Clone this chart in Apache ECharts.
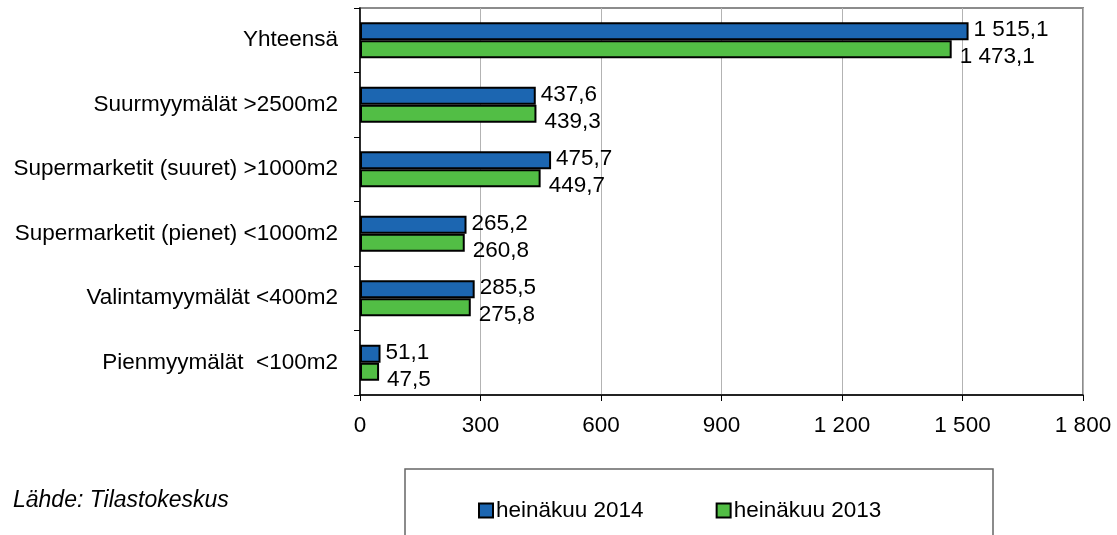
<!DOCTYPE html>
<html>
<head>
<meta charset="utf-8">
<script src="https://cdn.jsdelivr.net/npm/echarts@6/dist/echarts.min.js"></script>
<style>
    html, body { margin: 0; padding: 0; background: #fff; }
    #chart { width: 1117px; height: 535px; }
</style>
</head>
<body>
<div id="chart"></div>
<script>
// kategoriat ylhäältä alas
var categories = [
    'Yhteensä',
    'Suurmyymälät >2500m2',
    'Supermarketit (suuret) >1000m2',
    'Supermarketit (pienet) <1000m2',
    'Valintamyymälät <400m2',
    'Pienmyymälät  <100m2'
]
var series2014 = [1515.1, 437.6, 475.7, 265.2, 285.5, 51.1]
var series2013 = [1473.1, 439.3, 449.7, 260.8, 275.8, 47.5]
var seriesNames = ['heinäkuu 2014', 'heinäkuu 2013']
var xTicks = [0, 300, 600, 900, 1200, 1500, 1800]

var font = 'Liberation Sans, Arial, sans-serif'
var fs = 22.5

// luvut muotoon "1 515,1"
function fmt(v, dec) {
    var s = v.toFixed(dec)
    var parts = s.split('.')
    var intPart = parts[0].replace(/\B(?=(\d{3})+(?!\d))/g, ' ')
    return parts.length > 1 ? intPart + ',' + parts[1] : intPart
}

var myChart = echarts.init(document.getElementById('chart'))
myChart.setOption({
    backgroundColor: '#fff',
    animation: false,
    textStyle: { fontFamily: font },
    grid: {
        left: 360,
        top: 8,
        right: 34,
        bottom: 140,
        show: true,
        borderColor: '#8c8c8c',
        borderWidth: 2
    },
    legend: {
        data: seriesNames,
        left: 478,
        top: 499,
        itemWidth: 14,
        itemHeight: 14,
        itemGap: 72,
        padding: 0,
        icon: 'rect',
        textStyle: { fontSize: fs, color: '#000', fontFamily: font, padding: [0, 0, 0, -2] }
    },
    xAxis: {
        type: 'value',
        min: xTicks[0],
        max: xTicks[xTicks.length - 1],
        interval: 300,
        axisLine: { show: true, lineStyle: { color: '#000', width: 1.5 } },
        axisTick: { show: true, length: 6, lineStyle: { color: '#000' } },
        axisLabel: {
            margin: 19,
            fontSize: fs,
            color: '#000',
            formatter: function (v) { return fmt(v, 0) }
        },
        splitLine: { show: true, lineStyle: { color: '#b3b3b3', width: 1 } }
    },
    yAxis: {
        type: 'category',
        data: categories,
        inverse: true,
        axisLine: { show: true, lineStyle: { color: '#000', width: 1.5 } },
        axisTick: { show: true, length: 6, lineStyle: { color: '#000' } },
        axisLabel: { margin: 22, fontSize: fs, color: '#000' }
    },
    graphic: [
        {
            type: 'rect',
            shape: { x: 405, y: 469, width: 588, height: 80 },
            style: { fill: 'none', stroke: '#666', lineWidth: 1.5 },
            silent: true
        },
        {
            type: 'text',
            left: 13,
            top: 489,
            style: {
                text: 'Lähde: Tilastokeskus',
                font: 'italic 23px ' + font,
                fill: '#000'
            }
        }
    ],
    series: [
        {
            name: seriesNames[0],
            type: 'bar',
            data: series2014,
            barWidth: 18,
            barGap: '0%',
            itemStyle: { color: '#1c66b1', borderColor: '#000', borderWidth: 2 },
            label: {
                show: true,
                position: 'right',
                distance: 5,
                offset: [0, -1],
                fontSize: fs,
                color: '#000',
                formatter: function (p) { return fmt(p.value, 1) }
            }
        },
        {
            name: seriesNames[1],
            type: 'bar',
            data: series2013,
            barWidth: 18,
            barGap: '0%',
            itemStyle: { color: '#52be45', borderColor: '#000', borderWidth: 2 },
            label: {
                show: true,
                position: 'right',
                distance: 6,
                offset: [2, 8],
                fontSize: fs,
                color: '#000',
                formatter: function (p) { return fmt(p.value, 1) }
            }
        }
    ]
})
</script>
</body>
</html>
